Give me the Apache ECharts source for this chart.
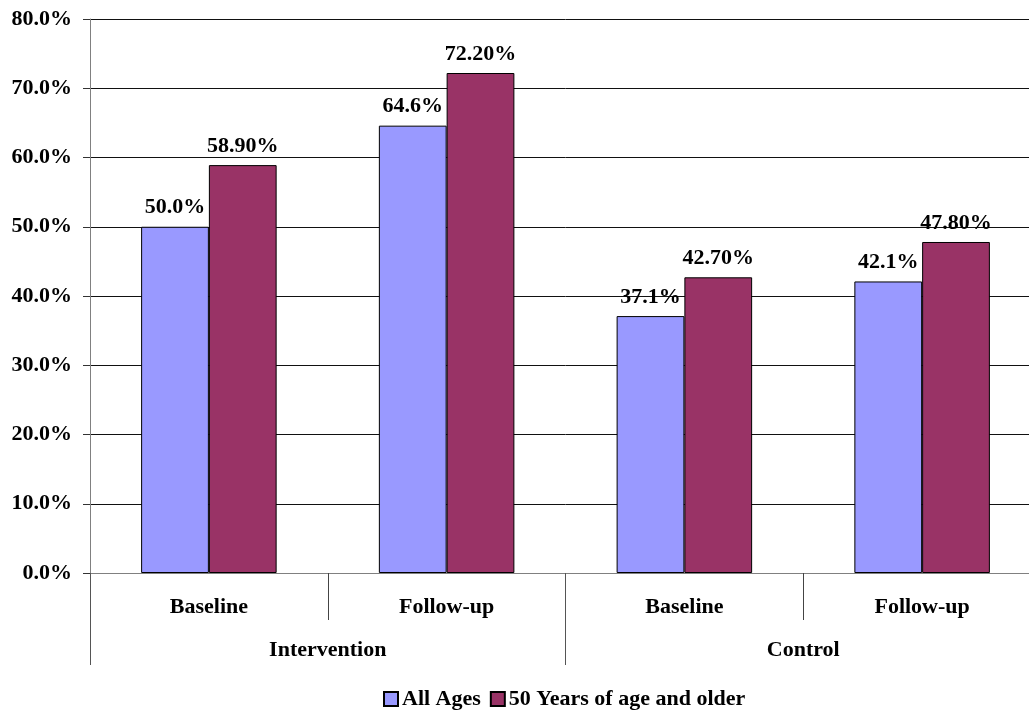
<!DOCTYPE html>
<html>
<head>
<meta charset="utf-8">
<title>Intervention vs Control</title>
<script src="https://cdn.jsdelivr.net/npm/echarts@6/dist/echarts.min.js"></script>
<style>
  html, body { margin: 0; padding: 0; background: #fff; overflow: hidden; width: 1029px; height: 712px; }
  /* the plot area runs a little past the right edge of the window */
  #chart { width: 1041px; height: 712px; }
</style>
</head>
<body>
<div id="chart"></div>
<script>
// Phase labels (inner axis) and study-arm groups (outer axis)
var phases = ['Baseline', 'Follow-up', 'Baseline', 'Follow-up'];
var groups = ['Intervention', 'Control'];

// Percentages per phase
var allAges = [50.0, 64.6, 37.1, 42.1];
var olderAdults = [58.9, 72.2, 42.7, 47.8];

var seriesNames = ['All Ages', '50 Years of age and older'];

var FONT = '"Liberation Serif", "Times New Roman", serif';
var textStyle = { fontFamily: FONT, fontWeight: 'bold', fontSize: 22, color: '#000' };

var chart = echarts.init(document.getElementById('chart'), null, { renderer: 'canvas' });

chart.setOption({
  animation: false,
  backgroundColor: '#fff',
  textStyle: { fontFamily: FONT },
  grid: { left: 90, right: 0, top: 19, bottom: 139, containLabel: false },
  legend: {
    data: seriesNames,
    left: 378,
    top: 683,
    icon: 'rect',
    itemWidth: 14,
    itemHeight: 14,
    itemGap: 9,
    textStyle: Object.assign({}, textStyle, { padding: [0, 0, 0, -1] })
  },
  xAxis: [
    {
      type: 'category',
      data: phases,
      position: 'bottom',
      axisLine: { show: true, lineStyle: { color: '#808080', width: 1 } },
      axisTick: { show: true, length: 47, interval: 0, lineStyle: { color: '#444', width: 1 } },
      axisLabel: Object.assign({ margin: 23, interval: 0 }, textStyle),
      splitLine: { show: false }
    },
    {
      type: 'category',
      data: groups,
      position: 'bottom',
      axisLine: { show: false },
      axisTick: { show: true, length: 92, interval: 0, lineStyle: { color: '#555', width: 1 } },
      axisLabel: Object.assign({ margin: 66, interval: 0 }, textStyle),
      splitLine: { show: false }
    }
  ],
  yAxis: {
    type: 'value',
    min: 0,
    max: 80,
    interval: 10,
    axisLine: { show: true, lineStyle: { color: '#808080', width: 1 } },
    axisTick: { show: true, length: 7, lineStyle: { color: '#333' } },
    axisLabel: Object.assign({
      margin: 18,
      formatter: function (v) { return v.toFixed(1) + '%'; }
    }, textStyle),
    splitLine: { show: true, lineStyle: { color: '#111', width: 1 } }
  },
  series: [
    {
      name: seriesNames[0],
      type: 'bar',
      xAxisIndex: 0,
      data: allAges,
      barGap: '0%',
      barCategoryGap: '43%',
      itemStyle: { color: '#9999FF', borderColor: '#000', borderWidth: 1 },
      label: Object.assign({
        show: true,
        position: 'top',
        distance: 8,
        formatter: function (p) { return p.value.toFixed(1) + '%'; }
      }, textStyle)
    },
    {
      name: seriesNames[1],
      type: 'bar',
      xAxisIndex: 0,
      data: olderAdults,
      barGap: '0%',
      barCategoryGap: '43%',
      itemStyle: { color: '#993366', borderColor: '#000', borderWidth: 1 },
      label: Object.assign({
        show: true,
        position: 'top',
        distance: 8,
        formatter: function (p) { return p.value.toFixed(2) + '%'; }
      }, textStyle)
    }
  ]
});
</script>
</body>
</html>
